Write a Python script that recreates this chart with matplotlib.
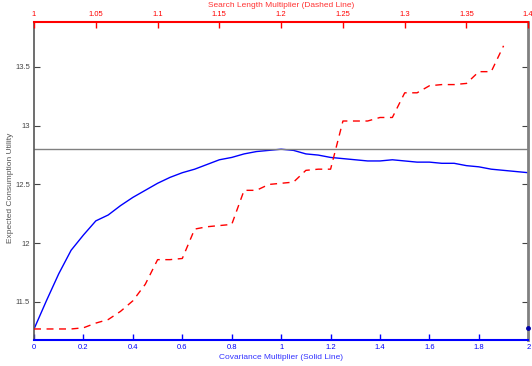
import numpy as np
import matplotlib.pyplot as plt

plt.rcParams["font.family"] = ["Liberation Sans", "DejaVu Sans"]

# Covariance multiplier sweep (solid blue line)
cov_mult = [0.00, 0.05, 0.10, 0.15, 0.20, 0.25, 0.30, 0.35, 0.40, 0.45,
            0.50, 0.55, 0.60, 0.65, 0.70, 0.75, 0.80, 0.85, 0.90, 0.95,
            1.00, 1.05, 1.10, 1.15, 1.20, 1.25, 1.30, 1.35, 1.40, 1.45,
            1.50, 1.55, 1.60, 1.65, 1.70, 1.75, 1.80, 1.85, 1.90, 1.95, 2.00]
cov_utility = [11.27, 11.51, 11.74, 11.94, 12.07, 12.19, 12.24, 12.32, 12.39, 12.45,
               12.51, 12.56, 12.60, 12.63, 12.67, 12.71, 12.73, 12.76, 12.78, 12.79,
               12.80, 12.79, 12.76, 12.75, 12.73, 12.72, 12.71, 12.70, 12.70, 12.71,
               12.70, 12.69, 12.69, 12.68, 12.68, 12.66, 12.65, 12.63, 12.62, 12.61, 12.60]

# Search length multiplier sweep (dashed red line)
search_mult = [1.00, 1.01, 1.02, 1.03, 1.04, 1.05, 1.06, 1.07, 1.08, 1.09,
               1.10, 1.11, 1.12, 1.13, 1.14, 1.15, 1.16, 1.17, 1.18, 1.19,
               1.20, 1.21, 1.22, 1.23, 1.24, 1.25, 1.26, 1.27, 1.28, 1.29,
               1.30, 1.31, 1.32, 1.33, 1.34, 1.35, 1.36, 1.37, 1.38]
search_utility = [11.27, 11.27, 11.27, 11.27, 11.28, 11.32, 11.35, 11.42, 11.51, 11.65,
                  11.86, 11.86, 11.87, 12.12, 12.14, 12.15, 12.16, 12.45, 12.45, 12.50,
                  12.51, 12.52, 12.62, 12.63, 12.63, 13.04, 13.04, 13.04, 13.07, 13.07,
                  13.28, 13.28, 13.34, 13.35, 13.35, 13.36, 13.46, 13.46, 13.68]

baseline = 12.80
end_point = 11.28

bottom_ticks = [0, 0.2, 0.4, 0.6, 0.8, 1, 1.2, 1.4, 1.6, 1.8, 2]
top_ticks = [1, 1.05, 1.1, 1.15, 1.2, 1.25, 1.3, 1.35, 1.4]
y_ticks = [11.5, 12, 12.5, 13, 13.5]

blue = "#0000ff"
red = "#ff0000"
gray = "#808080"

fig = plt.figure(figsize=(5.32, 3.66), dpi=100)
ax = fig.add_axes([0.064, 0.071, 0.929, 0.869])
ax.plot(cov_mult, cov_utility, color=blue, linewidth=1.0)
ax.axhline(baseline, color=gray, linewidth=1.0)
ax.plot([2], [end_point], "o", color="#0000aa", markersize=2.5, clip_on=False, zorder=5)
ax.set_xlim(0, 2)
ax.set_ylim(11.176, 13.883)
ax.set_xticks(bottom_ticks)
ax.set_xticklabels([f"{t:g}" for t in bottom_ticks])
ax.set_yticks(y_ticks)
ax.set_yticklabels([f"{t:g}" for t in y_ticks])
ax.tick_params(axis="x", direction="in", colors=blue, labelsize=5.5, length=4, width=1, pad=3)
ax.tick_params(axis="y", direction="in", colors="#444444", labelsize=5.5, length=4, width=0.8,
               right=True, labelright=True, pad=3)
ax.set_xlabel("Covariance Multiplier (Solid Line)", color="#3333ff", fontsize=6, labelpad=2)
ax.set_ylabel("Expected Consumption Utility", color="#555555", fontsize=6)
ax.yaxis.set_label_coords(-0.04, 0.48)
ax.spines["bottom"].set_color(blue)
ax.spines["bottom"].set_linewidth(1.5)
ax.spines["left"].set_color("#555555")
ax.spines["left"].set_linewidth(1.2)
ax.spines["right"].set_color(gray)
ax.spines["right"].set_linewidth(2)
ax.spines["top"].set_visible(False)

ax2 = ax.twiny()
ax2.plot(search_mult, search_utility, color=red, linewidth=1.0, dashes=(5, 4))
ax2.set_xlim(1, 1.4)
ax2.set_xticks(top_ticks)
ax2.set_xticklabels([f"{t:g}" for t in top_ticks])
ax2.tick_params(axis="x", direction="in", colors=red, labelsize=5.5, length=4, width=1, pad=3)
ax2.set_xlabel("Search Length Multiplier (Dashed Line)", color="#ff3333", fontsize=6, labelpad=3)
ax2.spines["top"].set_color(red)
ax2.spines["top"].set_linewidth(1.5)
for s in ["bottom", "left", "right"]:
    ax2.spines[s].set_visible(False)

plt.savefig("out.png", dpi=100)
